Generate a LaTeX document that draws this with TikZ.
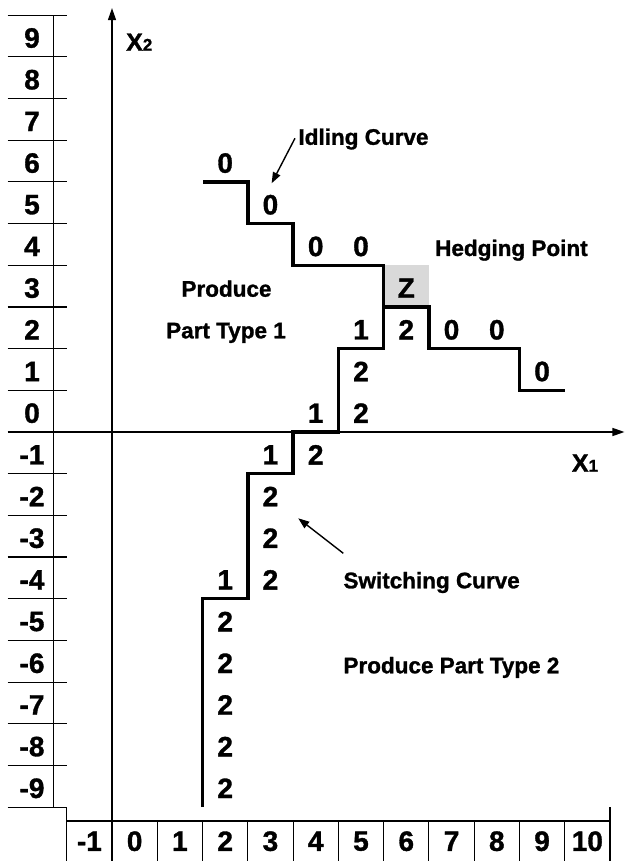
\documentclass[tikz,border=0pt]{standalone}
\usepackage{fontspec}
\setmainfont{Liberation Sans}[BoldFeatures={FakeBold=1.2}]
\usetikzlibrary{arrows.meta}
\tikzset{
  gridline/.style={line width=1.1pt},
  axisline/.style={line width=1.4pt, -{Triangle[length=12pt,width=8pt]}},
  curveline/.style={line width=3.4pt, line join=miter},
  num/.style={font=\fontsize{28}{28}\selectfont\bfseries, inner sep=0pt, yshift=-2pt},
  lbl/.style={font=\fontsize{22.5}{22.5}\selectfont\bfseries, inner sep=0pt, anchor=base west},
  axlbl/.style={font=\fontsize{25}{25}\selectfont\bfseries, inner sep=0pt, anchor=base west},
  pointer/.style={line width=1.4pt, -{Triangle[length=11pt,width=8pt]}},
  hedge/.style={fill=gray!30, draw=none},
}
\newcommand{\subidx}[1]{{\fontsize{17}{17}\selectfont #1}}
\begin{document}
\begin{tikzpicture}[x=45.27pt, y=41.68pt]
% page frame: origin sits where the two axes cross
\useasboundingbox (-112pt,432pt) rectangle (514pt,-429pt);

% ---- x2 scale on the left ----
\foreach \v in {10,9,...,1,-1,-2,...,-9}
  \draw[gridline] (-2.308,\v) -- (-1,\v);
\draw[gridline] (-1.292,10) -- (-1.292,-9);
\foreach \k [count=\n] in {9,8,...,-9}
  \node[num] (row\n) at (-1.767,\k+0.5) {\k};

% ---- x1 scale at the bottom ----
\draw[gridline] (-1,-9) -- (-1,-10.293);
\draw[gridline] (-1,-9.333) -- (11,-9.333);
\draw[gridline] (11,-9) -- (11,-10.293);
\foreach \u in {1,...,10}
  \draw[gridline] (\u,-9.333) -- (\u,-10.293);
\foreach \k [count=\n] in {-1,0,...,10}
  \node[num] (col\n) at (\k+0.5,-9.77) {\k};

% ---- axes ----
\draw[axisline] (0,-10.293) -- (0,10.17);
\draw[axisline] (-2.308,0) -- (11.32,0);
\node[axlbl] (xtwo) at (0.309,9.148) {X\subidx{2}};
\node[axlbl] (xone) at (10.155,-0.952) {X\subidx{1}};

% ---- hedging point cell ----
\fill[hedge] (6,3) rectangle (7,4);

% ---- idling and switching curves ----
\draw[curveline] (2,-9) -- (2,-4) -- (3,-4) -- (3,-1) -- (4,-1) -- (4,0)
  -- (5,0) -- (5,2) -- (6,2) -- (6,4) -- (4,4) -- (4,5) -- (3,5) -- (3,6) -- (2,6);
\draw[curveline] (6,3) -- (7,3) -- (7,2) -- (9,2) -- (9,1) -- (10,1);

% ---- control values in the cells ----
\foreach \i/\j/\t [count=\n] in {2/6/0, 3/5/0, 4/4/0, 5/4/0, 6/3/Z,
    5/2/1, 6/2/2, 7/2/0, 8/2/0, 5/1/2, 9/1/0, 4/0/1, 5/0/2,
    3/-1/1, 4/-1/2, 3/-2/2, 3/-3/2, 3/-4/2, 2/-4/1,
    2/-5/2, 2/-6/2, 2/-7/2, 2/-8/2, 2/-9/2}
  \node[num] (cell\n) at (\i+0.5,\j+0.5) {\t};

% ---- region and curve labels ----
\node[lbl] (idle) at (4.115,6.89) {Idling Curve};
\node[lbl] (hedgelbl) at (7.135,4.223) {Hedging Point};
\node[lbl, anchor=base] (prodA) at (2.529,3.246) {Produce};
\node[lbl, anchor=base] (prodB) at (2.518,2.248) {Part Type 1};
\node[lbl] (switch) at (5.109,-3.75) {Switching Curve};
\node[lbl] (prodC) at (5.109,-5.789) {Produce Part Type 2};

% ---- pointers ----
\coordinate (idlefrom) at (4.042,7.047);
\coordinate (idletip) at (3.526,5.967);
\coordinate (switchfrom) at (5.109,-2.910);
\coordinate (switchtip) at (4.115,-2.071);
\draw[pointer] (idlefrom) -- (idletip);
\draw[pointer] (switchfrom) -- (switchtip);
\end{tikzpicture}
\end{document}
